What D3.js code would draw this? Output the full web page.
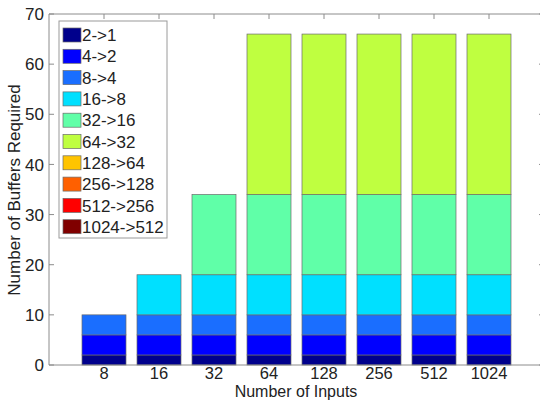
<!DOCTYPE html>
<html><head><meta charset="utf-8">
<script src="https://cdn.jsdelivr.net/npm/d3@7"></script>
<style>
html,body{margin:0;padding:0;background:#fff;}
svg{display:block;}
text{font-family:"Liberation Sans",Arial,sans-serif;fill:#222;}
</style></head>
<body>
<svg id="chart" width="540" height="401"></svg>
<script>
const categories = ["8","16","32","64","128","256","512","1024"];
const seriesNames = ["2->1","4->2","8->4","16->8","32->16","64->32","128->64","256->128","512->256","1024->512"];
const s_2_1     = [2,2,2,2,2,2,2,2];
const s_4_2     = [4,4,4,4,4,4,4,4];
const s_8_4     = [4,4,4,4,4,4,4,4];
const s_16_8    = [0,8,8,8,8,8,8,8];
const s_32_16   = [0,0,16,16,16,16,16,16];
const s_64_32   = [0,0,0,32,32,32,32,32];
const s_128_64  = [0,0,0,0,0,0,0,0];
const s_256_128 = [0,0,0,0,0,0,0,0];
const s_512_256 = [0,0,0,0,0,0,0,0];
const s_1024_512= [0,0,0,0,0,0,0,0];
const seriesValues = [s_2_1,s_4_2,s_8_4,s_16_8,s_32_16,s_64_32,s_128_64,s_256_128,s_512_256,s_1024_512];
const yTicks = [0,10,20,30,40,50,60,70];
const colors = ["#00008c","#0000ff","#1a6eff","#00e0ff","#60ffa8","#bfff40","#ffc400","#ff6000","#ff0000","#800000"];

const svg = d3.select("#chart");
const L = 49, R = 544, T = 14, B = 365;
const x = d3.scaleLinear().domain([0, categories.length + 1]).range([L, R]);
const y = d3.scaleLinear().domain([0, 70]).range([B, T]);
const axisColor = "#8c8c8c";
const fs = 17;

// table for stacking
const table = categories.map((c, i) => {
  const row = {cat: c, idx: i + 1};
  seriesNames.forEach((s, k) => row[s] = seriesValues[k][i]);
  return row;
});
const stacked = d3.stack().keys(seriesNames)(table);

// bottom ticks (under bars)
svg.append("g").selectAll("line").data(categories).join("line")
  .attr("x1", (d,i)=>x(i+1)).attr("x2",(d,i)=>x(i+1))
  .attr("y1", B).attr("y2", B-5).attr("stroke", axisColor);

// bars
const bw = x(0.8) - x(0);
svg.append("g").selectAll("g").data(stacked).join("g")
  .attr("fill", (d,k)=>colors[k])
  .selectAll("rect").data(d=>d).join("rect")
  .attr("x", d => x(d.data.idx) - bw/2)
  .attr("width", bw)
  .attr("y", d => y(d[1]))
  .attr("height", d => y(d[0]) - y(d[1]))
  .attr("stroke", "#6a6a6a").attr("stroke-width", 0.7);

// axes box
const g = svg.append("g");
g.append("line").attr("x1",L).attr("x2",R).attr("y1",B).attr("y2",B).attr("stroke",axisColor);
g.append("line").attr("x1",L).attr("x2",R).attr("y1",T).attr("y2",T).attr("stroke",axisColor);
g.append("line").attr("x1",L).attr("x2",L).attr("y1",T).attr("y2",B).attr("stroke",axisColor);
g.append("line").attr("x1",R).attr("x2",R).attr("y1",T).attr("y2",B).attr("stroke",axisColor);

// top ticks
g.append("g").selectAll("line").data(categories).join("line")
  .attr("x1",(d,i)=>x(i+1)).attr("x2",(d,i)=>x(i+1))
  .attr("y1",T).attr("y2",T+5).attr("stroke",axisColor);

// y ticks left/right
g.append("g").selectAll("line").data(yTicks).join("line")
  .attr("x1",L).attr("x2",L+5).attr("y1",d=>y(d)).attr("y2",d=>y(d)).attr("stroke",axisColor);
g.append("g").selectAll("line").data(yTicks).join("line")
  .attr("x1",R).attr("x2",R-5).attr("y1",d=>y(d)).attr("y2",d=>y(d)).attr("stroke",axisColor);

// y tick labels
g.append("g").selectAll("text").data(yTicks).join("text")
  .attr("x", L-5).attr("y", d=>y(d)).attr("dy","0.36em")
  .attr("text-anchor","end").attr("font-size",fs).text(d=>d);

// x tick labels
g.append("g").selectAll("text").data(categories).join("text")
  .attr("x",(d,i)=>x(i+1)).attr("y", 378.5)
  .attr("text-anchor","middle").attr("font-size",16.5).text(d=>d);

// axis labels
svg.append("text").attr("x", 296).attr("y", 397).attr("text-anchor","middle")
  .attr("font-size",16).text("Number of Inputs");
svg.append("text").attr("transform","translate(20,190) rotate(-90)")
  .attr("text-anchor","middle").attr("font-size",fs).text("Number of Buffers Required");

// legend
const lg = svg.append("g");
const lx = 59, ly = 21, lw = 108, lh = 217;
lg.append("rect").attr("x",lx).attr("y",ly).attr("width",lw).attr("height",lh)
  .attr("fill","#fff").attr("stroke","#9a9a9a");
const rowH = 21.3;
const items = lg.selectAll("g").data(seriesNames).join("g")
  .attr("transform",(d,k)=>`translate(${lx+4},${ly+14+k*rowH})`);
items.append("rect").attr("x",0).attr("y",-7).attr("width",18).attr("height",14)
  .attr("fill",(d,k)=>colors[k]).attr("stroke","#6a6a6a").attr("stroke-width",0.7);
items.append("text").attr("x",19).attr("y",0).attr("dy","0.36em")
  .attr("font-size",fs).text(d=>d);
</script>
</body></html>
